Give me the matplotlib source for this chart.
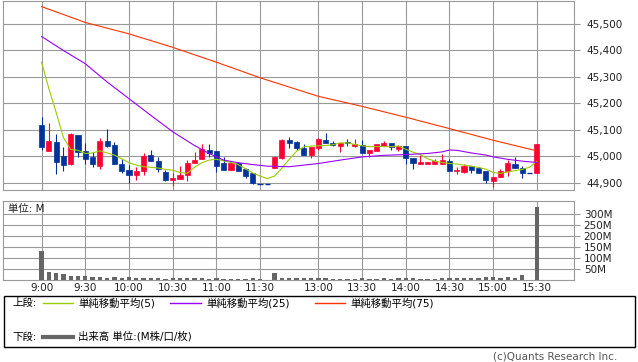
import matplotlib
matplotlib.use("Agg")
import matplotlib.pyplot as plt
from matplotlib.lines import Line2D
from matplotlib.patches import Rectangle

plt.rcParams['font.family'] = ['DejaVu Sans', 'Noto Sans CJK JP']

# 5-minute bars, index 0 = 9:00 (lunch break squeezed out)
opens = [45117, 45020, 45052, 45000, 44970, 45079, 45019, 44997, 44962, 45056,
         45041, 44970, 44947, 44929, 44944, 45006, 44982, 44940, 44910, 44913,
         44929, 44975, 44989, 45023, 45019, 44975, 44947, 44975, 44950, 44935,
         44894, 44894, 44957, 44994, 45060, 45054, 45029, 45006, 45029, 45060,
         45050, 45040, 45054, 45040, 45041, 45010, 45018, 45039, 45048, 45027,
         45038, 44992, 44971, 44969, 44970, 44972, 44982, 44945, 44941, 44962,
         44954, 44944, 44906, 44922, 44944, 44972, 44957, 44937, 44935]
highs = [45146, 45127, 45085, 45035, 45088, 45079, 45048, 45016, 45067, 45104,
         45054, 44991, 44966, 44960, 45010, 45023, 44997, 44947, 44935, 44962,
         44985, 45016, 45044, 45044, 45019, 44997, 44975, 44979, 44957, 44935,
         44894, 44894, 44997, 45063, 45073, 45056, 45045, 45035, 45067, 45088,
         45058, 45048, 45063, 45064, 45060, 45025, 45045, 45058, 45048, 45042,
         45038, 44992, 45004, 44979, 44991, 45008, 44991, 44960, 44970, 44962,
         44960, 44944, 44922, 44950, 44985, 44995, 44962, 44937, 45045]
lows = [45025, 45020, 44932, 44944, 44966, 44997, 44970, 44960, 44950, 45035,
        44970, 44935, 44900, 44910, 44929, 44981, 44940, 44907, 44887, 44913,
        44907, 44975, 44989, 44997, 44940, 44947, 44947, 44944, 44916, 44895,
        44894, 44894, 44957, 44988, 45031, 45025, 45006, 44994, 45023, 45050,
        45037, 45016, 45040, 45035, 45010, 44995, 45018, 45039, 45023, 45020,
        44972, 44953, 44970, 44969, 44970, 44972, 44945, 44932, 44935, 44937,
        44937, 44900, 44884, 44922, 44926, 44956, 44916, 44937, 44935]
closes = [45035, 45056, 44979, 44966, 45085, 45016, 44991, 44969, 45056, 45039,
          44972, 44944, 44929, 44944, 45000, 44981, 44950, 44910, 44917, 44929,
          44975, 44985, 45026, 45010, 44962, 44947, 44975, 44944, 44926, 44897,
          44894, 44894, 44997, 45060, 45050, 45031, 45006, 45035, 45064, 45050,
          45042, 45048, 45048, 45044, 45010, 45025, 45045, 45048, 45035, 45038,
          44994, 44975, 44976, 44979, 44981, 44985, 44945, 44947, 44962, 44947,
          44937, 44910, 44922, 44944, 44975, 44956, 44935, 44937, 45045]

# volume in millions
volume = [132, 38, 32, 27, 20, 20, 20, 15, 15, 10,
          15, 10, 15, 9, 9, 9, 9, 6, 9, 9,
          9, 9, 9, 6, 9, 5, 5, 5, 5, 10,
          5, 1, 32, 9, 9, 9, 8, 8, 10, 10,
          6, 6, 6, 6, 10, 6, 6, 10, 6, 10,
          10, 10, 6, 6, 6, 10, 10, 10, 10, 10,
          10, 15, 15, 10, 15, 10, 23, 1, 333]

ma5 = [45355, 45255, 45165, 45070, 45025, 45022, 45010, 45012, 45020, 45012,
       45004, 44990, 44975, 44966, 44960, 44958, 44955, 44950, 44947, 44938,
       44935, 44958, 44975, 44985, 44988, 44982, 44976, 44968, 44952, 44936,
       44925, 44915, 44925, 44955, 44988, 45018, 45035, 45038, 45039, 45040,
       45043, 45050, 45050, 45044, 45039, 45036, 45036, 45036, 45036, 45038,
       45026, 45015, 45006, 44990, 44981, 44976, 44972, 44970, 44966, 44962,
       44957, 44951, 44938, 44935, 44940, 44945, 44950, 44958, 44980]

ma25_idx = [0, 3, 6, 9, 12, 15, 18, 21, 23, 25, 27, 29, 31, 34, 38, 41, 44,
            47, 50, 53, 55, 56, 57, 59, 61, 62, 64, 66, 68]
ma25 = [45452, 45399, 45349, 45280, 45217, 45154, 45092, 45040, 45010, 44985,
        44975, 44968, 44962, 44960, 44972, 44985, 44997, 45003, 45006, 45010,
        45016, 45023, 45022, 45012, 45004, 44997, 44988, 44981, 44976]

ma75_idx = [0, 3, 6, 12, 18, 24, 30, 38, 44, 50, 56, 62, 68]
ma75 = [45565, 45535, 45505, 45462, 45411, 45355, 45296, 45226, 45188, 45147,
        45104, 45060, 45020]

tick_idx = [0, 6, 12, 18, 24, 30, 38, 44, 50, 56, 62, 68]
tick_labels = ['9:00', '9:30', '10:00', '10:30', '11:00', '11:30',
               '13:00', '13:30', '14:00', '14:30', '15:00', '15:30']
price_ticks = [44900, 45000, 45100, 45200, 45300, 45400, 45500]
vol_ticks = [50, 100, 150, 200, 250, 300]

UP = '#ff0033'
DOWN = '#003399'
GRID = '#999999'
W, H = 638, 362

fig = plt.figure(figsize=(6.38, 3.62), dpi=100)

# price panel
ax = fig.add_axes([3 / W, 1 - 190 / H, 571 / W, 189.5 / H])
ax.set_xlim(-5.3, 73.1)
ax.set_ylim(44872, 45588)
for i in range(len(opens)):
    o, h, l, c = opens[i], highs[i], lows[i], closes[i]
    col = UP if c > o else DOWN
    ax.vlines(i, l, h, color=col, lw=0.8, zorder=3)
    if c == o:
        ax.hlines(o, i - 0.37, i + 0.37, color=col, lw=1, zorder=3)
    else:
        ax.bar(i, abs(c - o), bottom=min(o, c), width=0.7, color=col,
               edgecolor=col, linewidth=0.5, zorder=3)
ax.plot(range(len(ma5)), ma5, color='#99cc00', lw=0.8, zorder=4)
ax.plot(ma25_idx, ma25, color='#9900ff', lw=0.8, zorder=4)
ax.plot(ma75_idx, ma75, color='#ff3300', lw=0.8, zorder=4)

ax.set_xticks(tick_idx)
ax.set_xticklabels([])
ax.set_yticks(price_ticks)
ax.set_yticklabels([f'{v:,}' for v in price_ticks])
ax.yaxis.tick_right()
ax.tick_params(axis='x', length=0)
ax.tick_params(axis='y', length=4, width=0.8, color=GRID, labelsize=7.5,
               pad=5, labelcolor='#222222')
ax.grid(True, color=GRID, lw=0.8)
ax.set_axisbelow(True)
for s in ax.spines.values():
    s.set_color(GRID)
    s.set_linewidth(0.8)

# volume panel
vax = fig.add_axes([3 / W, 1 - 280 / H, 571 / W, 79 / H])
vax.set_xlim(-5.3, 73.1)
vax.set_ylim(0, 360)
vax.bar(range(len(volume)), volume, width=0.6, color='#666666', zorder=3)
vax.set_xticks(tick_idx)
vax.set_xticklabels(tick_labels)
vax.set_yticks(vol_ticks)
vax.set_yticklabels([f'{v}M' for v in vol_ticks])
vax.yaxis.tick_right()
vax.tick_params(axis='x', length=0, labelsize=7.5, pad=2, labelcolor='#222222')
vax.tick_params(axis='y', length=4, width=0.8, color=GRID, labelsize=7.5,
                pad=3, labelcolor='#222222')
vax.grid(True, color=GRID, lw=0.8)
vax.set_axisbelow(True)
for s in vax.spines.values():
    s.set_color(GRID)
    s.set_linewidth(0.8)
vax.text(0.008, 0.9, '単位: M', transform=vax.transAxes, fontsize=7.5,
         va='center', ha='left', color='#222222')

# legend box
fig.add_artist(Rectangle((4 / W, 1 - 347 / H), 631 / W, 51 / H,
                         transform=fig.transFigure, fill=False,
                         edgecolor='black', lw=1))

def fy(y):
    return 1 - y / H

row1, row2 = 303, 336.5
fig.text(12 / W, fy(row1), '上段:', fontsize=7.5, va='center')
fig.add_artist(Line2D([43 / W, 73 / W], [fy(row1)] * 2, color='#99cc00', lw=1))
fig.text(78 / W, fy(row1), '単純移動平均(5)', fontsize=7.5, va='center')
fig.add_artist(Line2D([170 / W, 201 / W], [fy(row1)] * 2, color='#9900ff', lw=1))
fig.text(206 / W, fy(row1), '単純移動平均(25)', fontsize=7.5, va='center')
fig.add_artist(Line2D([315 / W, 345 / W], [fy(row1)] * 2, color='#ff3300', lw=1))
fig.text(350 / W, fy(row1), '単純移動平均(75)', fontsize=7.5, va='center')

fig.text(12 / W, fy(row2), '下段:', fontsize=7.5, va='center')
fig.add_artist(Line2D([43 / W, 73 / W], [fy(row2)] * 2, color='#666666', lw=3))
fig.text(78 / W, fy(row2), '出来高 単位:(M株/口/枚)', fontsize=7.5, va='center')

fig.text(617 / W, fy(356.5), '(c)Quants Research Inc.', fontsize=7.5,
         ha='right', va='center', color='#555555')

fig.savefig('out.png', dpi=100)
